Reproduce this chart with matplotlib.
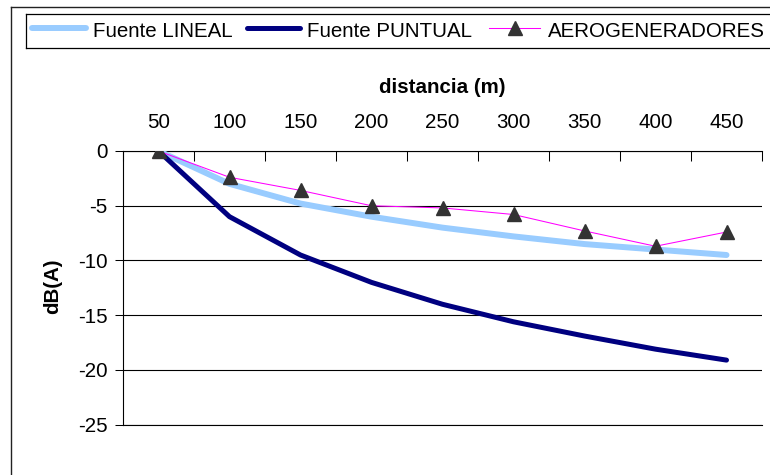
import matplotlib
matplotlib.use("Agg")
import matplotlib.pyplot as plt
from matplotlib.lines import Line2D

# Atenuación del nivel sonoro con la distancia
distancias = ["50", "100", "150", "200", "250", "300", "350", "400", "450"]
fuente_lineal = [0, -3.0, -4.8, -6.0, -7.0, -7.8, -8.5, -9.0, -9.5]
fuente_puntual = [0, -6.0, -9.5, -12.0, -14.0, -15.6, -16.9, -18.1, -19.1]
aerogeneradores = [0, -2.4, -3.6, -5.0, -5.2, -5.8, -7.3, -8.7, -7.4]
nombres = ["Fuente LINEAL", "Fuente PUNTUAL", "AEROGENERADORES"]

plt.rcParams['font.family'] = ['Liberation Sans', 'DejaVu Sans']
plt.rcParams['axes.unicode_minus'] = False

W, H = 770, 475
FS = 14.8
fig = plt.figure(figsize=(W / 100, H / 100), dpi=100)


def fx(px):
    return px / W


def fy(py):
    return 1 - py / H


# marco exterior del gráfico
fig.add_artist(Line2D([fx(11), fx(11)], [fy(7), fy(H + 5)], color='#222222', lw=1.0))
fig.add_artist(Line2D([fx(11), fx(W + 5)], [fy(7), fy(7)], color='#222222', lw=1.0))

# área de trazado
ax = fig.add_axes([fx(123), fy(424.7), fx(762) - fx(123), fy(151) - fy(424.7)])
x = list(range(len(distancias)))

estilo_linea = dict(solid_capstyle='round', solid_joinstyle='round')
ax.plot(x, fuente_lineal, color='#99CCFF', lw=4.3, zorder=3, **estilo_linea)
ax.plot(x, fuente_puntual, color='#000080', lw=3.6, zorder=4, **estilo_linea)
ax.plot(x, aerogeneradores, color='#FF00FF', lw=0.75, marker='^', ms=10.5,
        mfc='#333333', mec='#333333', zorder=5)

ax.set_xlim(-0.5, len(distancias) - 0.5)
ax.set_ylim(-25, 0)
ax.set_yticks(range(-25, 1, 5))
ax.set_axisbelow(True)
ax.yaxis.grid(True, color='black', lw=0.8)

ax.xaxis.tick_top()
ax.set_xticks(x)
ax.set_xticklabels(distancias)
ax.set_xticks([i - 0.5 for i in range(len(distancias) + 1)], minor=True)
ax.tick_params(axis='x', which='major', length=0, pad=14, labelsize=FS,
               top=True, bottom=False)
ax.tick_params(axis='x', which='minor', length=7, width=0.75, direction='in',
               top=True, bottom=False)
ax.tick_params(axis='y', length=6, width=0.75, pad=5, direction='out', labelsize=FS)

ax.spines['right'].set_visible(False)
for s in ('top', 'left', 'bottom'):
    ax.spines[s].set_linewidth(0.8)
    ax.spines[s].set_color('black')

# títulos de ejes
fig.text(fx(442.5), fy(93.3), "distancia (m)", ha='center', va='baseline',
         fontsize=FS, fontweight='bold')
fig.text(fx(53), fy(286), "dB(A)", ha='center', va='center', rotation=90,
         fontsize=FS, fontweight='bold')

# leyenda
fig.add_artist(Line2D([fx(26), fx(26)], [fy(14), fy(48)], color='black', lw=0.9))
fig.add_artist(Line2D([fx(26), fx(W + 5)], [fy(14), fy(14)], color='black', lw=0.9))
fig.add_artist(Line2D([fx(26), fx(W + 5)], [fy(48), fy(48)], color='black', lw=0.9))

ly = fy(28.3)
fig.add_artist(Line2D([fx(32), fx(86)], [ly, ly], color='#99CCFF', lw=4.3,
                      solid_capstyle='round'))
fig.add_artist(Line2D([fx(247), fx(300)], [ly, ly], color='#000080', lw=3.6,
                      solid_capstyle='round'))
fig.add_artist(Line2D([fx(489), fx(540)], [ly, ly], color='#FF00FF', lw=0.75))
fig.add_artist(Line2D([fx(515)], [ly], marker='^', ms=10.5, mfc='#333333',
                      mec='#333333', lw=0))
for px, nombre in zip([92.7, 307, 548], nombres):
    fig.text(fx(px), fy(36.7), nombre, ha='left', va='baseline', fontsize=FS)

fig.savefig("out.png", dpi=100)
